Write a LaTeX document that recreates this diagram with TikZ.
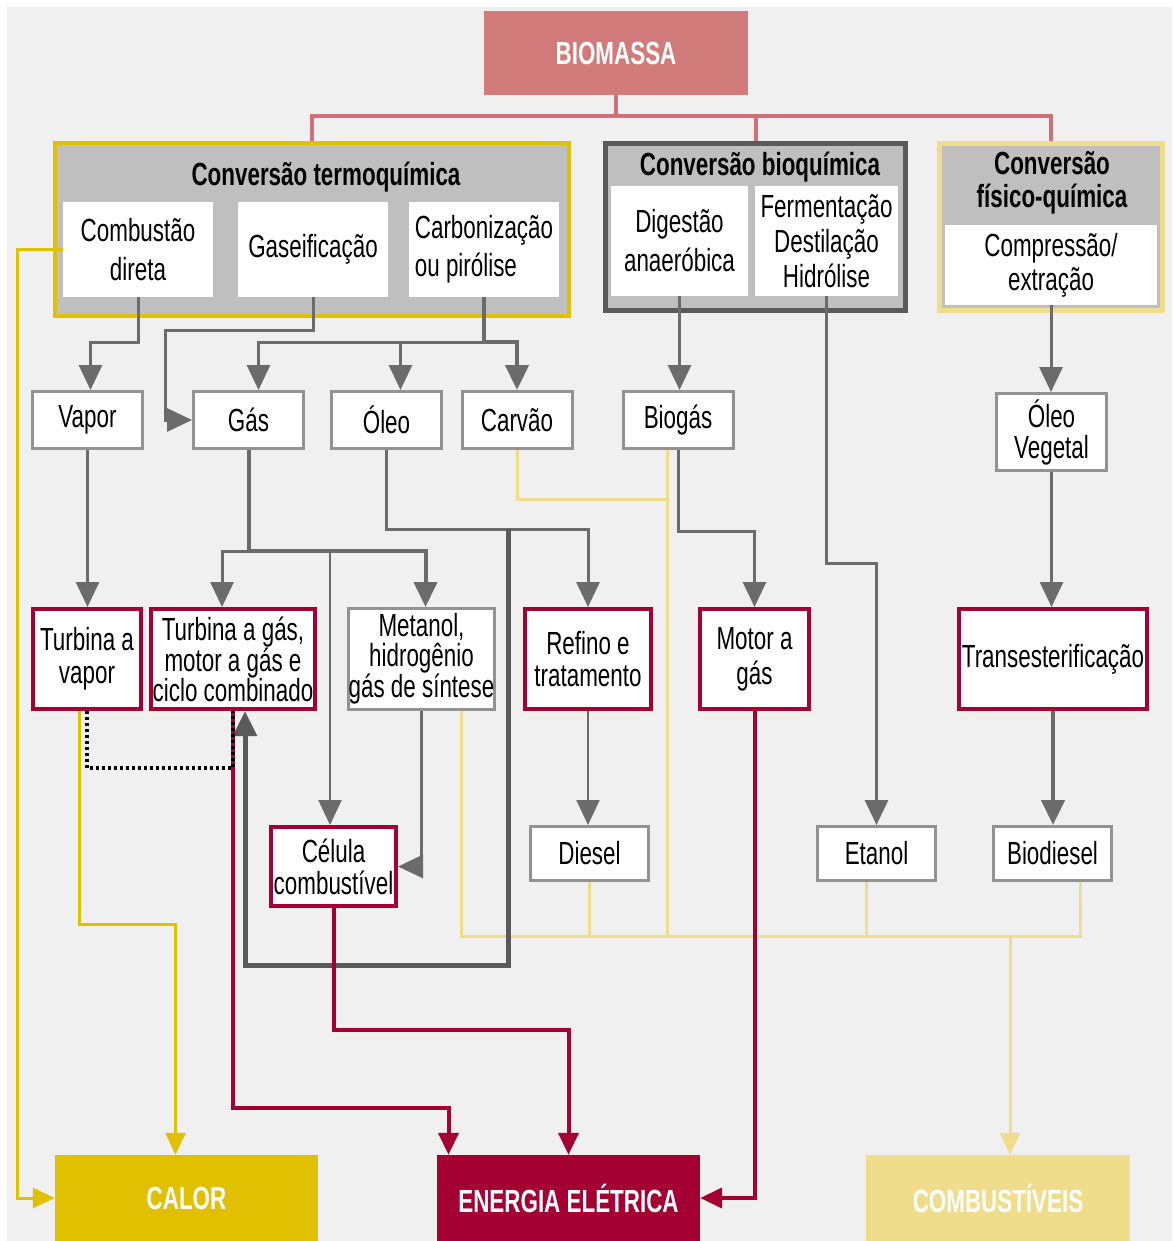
\documentclass[tikz,border=0pt]{standalone}
\usepackage{fontspec}
\setmainfont{Liberation Sans}[FakeStretch=0.7]
\usetikzlibrary{arrows.meta,calc}

\definecolor{bgc}{HTML}{F0F0F0}
\definecolor{grpc}{HTML}{BFBFBF}
\definecolor{goldc}{HTML}{E0C000}
\definecolor{palec}{HTML}{F0DD8C}
\definecolor{wine}{HTML}{A50034}
\definecolor{rosec}{HTML}{D27B7B}
\definecolor{rosel}{HTML}{CE7076}
\definecolor{lnc}{HTML}{6B6B6B}
\definecolor{dlnc}{HTML}{5A5A5A}
\definecolor{bxc}{HTML}{929292}

\tikzset{
  base/.style={inner sep=0pt, align=center, font=\fontsize{32}{34}\selectfont},
  lsp/.style={font=\fontsize{32}{#1}\selectfont},
  lspb/.style={font=\fontsize{32}{#1}\selectfont\bfseries},
  sz/.style 2 args={minimum width=#1, minimum height=#2},
  gbox/.style={base, draw=bxc, line width=3pt, fill=white},
  rbox/.style={base, draw=wine, line width=4pt, fill=white},
  wbox/.style={base, fill=white},
  grp/.style={base, fill=grpc},
  ttl/.style={base, lspb=33},
  endbox/.style={base, lspb=34, text=white},
  tipg/.style={-{Triangle[width=23pt,length=25pt]}},
  tips/.style={-{Triangle[width=20pt,length=22pt]}},
  gl/.style={draw=lnc, line width=3pt},
  ga/.style={gl, tipg},
  ra/.style={draw=wine, line width=4pt, tips},
  ya/.style={draw=goldc, line width=3pt, tips},
  pl/.style={draw=palec, line width=3pt},
  pa/.style={pl, tips},
  rl/.style={draw=rosel, line width=4pt},
  dotline/.style={draw=black, line width=3.5pt, dash pattern=on 3pt off 3pt},
}

\begin{document}
\begin{tikzpicture}[x=1pt,y=-1pt]
\useasboundingbox (0,0) rectangle (1172,1241);
\fill[white] (0,0) rectangle (1172,1241);
\fill[bgc] (7,7) rectangle (1172,1241);

% source
\node[base, lspb=34, fill=rosec, text=white, sz={264pt}{84pt}] (biomassa) at (616,53) {BIOMASSA};

% conversion groups
\node[grp, draw=goldc, line width=4pt, sz={514pt}{173pt}] (termo) at (312,229.5) {};
\node[grp, draw=dlnc, line width=5pt, sz={300pt}{167pt}] (bioq) at (755.5,227) {};
\node[grp, draw=palec, line width=5pt, sz={223pt}{167pt}] (fisico) at (1051,227) {};

\node[ttl] (termot) at (326,177) {Conversão termoquímica};
\node[ttl] (bioqt) at (760,167) {Conversão bioquímica};
\node[ttl] (fisicot) at (1052,183) {Conversão\\físico-química};

\node[wbox, lsp=39, sz={150pt}{95pt}] (comb) at (138,249.5) {Combustão\\direta};
\node[wbox, sz={150pt}{95pt}] (gasei) at (313,249.5) {Gaseificação};
\node[wbox, lsp=38, align=left, sz={150pt}{95pt}] (carb) at (484,249.5) {Carbonização\\ou pirólise};
\node[wbox, lsp=39, sz={137pt}{110pt}] (dig) at (679.5,241) {Digestão\\anaeróbica};
\node[wbox, lsp=35, sz={143pt}{110pt}] (ferm) at (826.5,241) {Fermentação\\Destilação\\Hidrólise};
\node[wbox, lsp=34, sz={212pt}{80pt}] (comp) at (1051,265) {Compressão/\\extração};

% intermediate products
\node[gbox, sz={110pt}{57pt}] (vapor) at (87.5,420) {Vapor};
\node[gbox, sz={110pt}{57pt}] (gas) at (248.5,420) {Gás};
\node[gbox, sz={110pt}{57pt}] (oleo) at (386.5,420) {Óleo};
\node[gbox, sz={110pt}{57pt}] (carvao) at (517,420) {Carvão};
\node[gbox, sz={110pt}{57pt}] (biogas) at (678,420) {Biogás};
\node[gbox, lsp=31, sz={110pt}{77pt}] (oleoveg) at (1051.5,432) {Óleo\\Vegetal};

% processes
\node[rbox, lsp=33, sz={108pt}{100pt}] (tv) at (87,659) {Turbina a\\vapor};
\node[rbox, lsp=30, sz={164pt}{100pt}] (tgas) at (233,659) {Turbina a gás,\\motor a gás e\\ciclo combinado};
\node[gbox, lsp=30, sz={146pt}{101pt}] (metanol) at (421.5,659) {Metanol,\\hidrogênio\\gás de síntese};
\node[rbox, lsp=32, sz={126pt}{100pt}] (refino) at (588,659) {Refino e\\tratamento};
\node[rbox, lsp=35, sz={109pt}{100pt}] (motor) at (754.5,659) {Motor a\\gás};
\node[rbox, sz={188pt}{100pt}] (transest) at (1053,659) {Transesterificação};

% fuels
\node[rbox, lsp=32, sz={125pt}{79pt}] (celula) at (333.5,866.5) {Célula\\combustível};
\node[gbox, sz={118pt}{54pt}] (diesel) at (589.5,853.5) {Diesel};
\node[gbox, sz={118pt}{54pt}] (etanol) at (876.5,853.5) {Etanol};
\node[gbox, sz={118pt}{54pt}] (biodiesel) at (1052.5,853.5) {Biodiesel};

% end uses
\node[endbox, fill=goldc, sz={263pt}{86pt}] (calor) at (186.5,1198) {CALOR};
\node[endbox, fill=wine, sz={263pt}{86pt}] (energia) at (568.5,1198) {ENERGIA ELÉTRICA};
\node[endbox, fill=palec, sz={264pt}{86pt}] (combust) at (998,1198) {COMBUSTÍVEIS};

% biomass to conversion routes
\draw[rl] (biomassa.south) -- ++(0,21) -| (termo.north);
\draw[rl] (biomassa.south) -- ++(0,21) -| (bioq.north);
\draw[rl] (biomassa.south) -- ++(0,21) -| (fisico.north);

% thermochemical outputs
\draw[ga] (comb.south) -- ++(0,45) -| ([xshift=3pt]vapor.north);
\draw[ga] (gasei.south) -- ++(0,33) -| ($(gas.west)+(-27,0)$) -- (gas.west);
\draw[ga] (carb.south) -- ++(0,45) -| ([xshift=10pt]gas.north);
\draw[ga] (carb.south) -- ++(0,45) -| ([xshift=14pt]oleo.north);
\draw[ga, line width=4.5pt] (carb.south) -- ++(0,45) -| (carvao.north);

% biochemical and physico-chemical outputs
\draw[ga] (dig.south) -- (dig.south |- biogas.north);
\draw[ga] (ferm.south) -- ++(0,267) -| (etanol.north);
\draw[ga] (comp.south) -- (comp.south |- oleoveg.north);

% fuel bus towards COMBUSTÍVEIS
\draw[pl] (carvao.south) -- ++(0,49) -| ([xshift=-11pt]biogas.south);
\draw[pl] ([xshift=-11pt]biogas.south) -- ++(0,486);
\draw[pl] ([xshift=40pt]metanol.south) -- ++(0,225) -| ([xshift=28pt]biodiesel.south);
\draw[pl] (diesel.south) -- ++(0,54);
\draw[pl] ([xshift=-10pt]etanol.south) -- ++(0,54);
\coordinate (fbus) at (1010,934.5);
\draw[pa] (fbus) -- (fbus |- combust.north);

% second stage
\draw[ga] (vapor.south) -- (vapor.south |- tv.north);
\draw[ga] (gas.south) -- ++(0,101) -| ([xshift=-11pt]tgas.north);
\draw[ga, line width=4pt] (gas.south) -- ++(0,101) -| ([xshift=4pt]metanol.north);
\path (gas.south) ++(81.5,101) coordinate (gc);
\draw[ga, line width=2pt] (gc) -- (gc |- celula.north);
\draw[ga] (oleo.south) -- ++(0,79) -| (refino.north);
\path (oleo.south) ++(121.5,79) coordinate (ot);
\draw[ga, draw=dlnc, line width=5pt] (ot) -- ++(0,436) -| ([xshift=12pt]tgas.south);
\draw[ga] (biogas.south) -- ++(0,81) -| (motor.north);
\draw[ga] (oleoveg.south) -- (oleoveg.south |- transest.north);

% third stage
\draw[ga] (metanol.south) |- (celula.east);
\draw[ga, line width=2pt] (refino.south) -- (refino.south |- diesel.north);
\draw[ga, line width=4.5pt] (transest.south) -- (transest.south |- biodiesel.north);

% heat
\draw[ya] (comb.west) -- ++(-45,0) |- (calor.west);
\draw[ya] ([xshift=-8pt]tv.south) -- ++(0,213) -| ([xshift=-11pt]calor.north);

% electricity
\draw[ra] (tgas.south) -- ++(0,397) -| ([xshift=-120pt]energia.north);
\draw[ra] (celula.south) -- ++(0,122) -| (energia.north);
\draw[ra] (motor.south) |- (energia.east);

% combined cycle link
\draw[dotline] (tv.south) -- ++(0,57) -| (tgas.south);
\end{tikzpicture}
\end{document}
